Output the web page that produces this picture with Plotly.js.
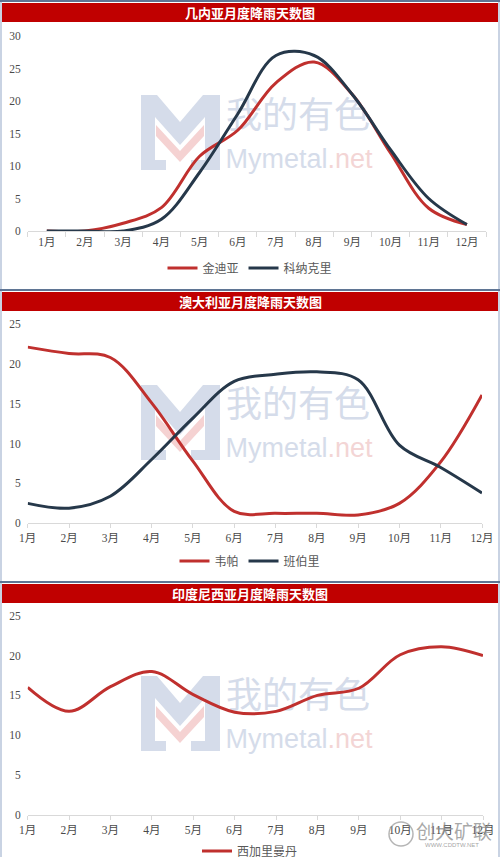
<!DOCTYPE html>
<html>
<head>
<meta charset="utf-8">
<script src="https://cdn.plot.ly/plotly-3.0.1.min.js"></script>
<style>
html,body{margin:0;padding:0;background:#fff;}
#chart{width:500px;height:857px;}
</style>
</head>
<body>
<div id="chart"></div>
<script>
// ---------- data ----------
const months = ['1月','2月','3月','4月','5月','6月','7月','8月','9月','10月','11月','12月'];
const chartTitles = ['几内亚月度降雨天数图','澳大利亚月度降雨天数图','印度尼西亚月度降雨天数图'];
const guineaNames = ['金迪亚','科纳克里'];
const guineaKindia  = [0, 0, 1.2, 3.6, 11.5, 15.5, 22.8, 26, 21, 12, 3.5, 1];
const guineaConakry = [0, 0, 0, 1.8, 9, 18, 27, 27, 21, 12.5, 5, 1];
const ausNames = ['韦帕','班伯里'];
const ausWeipa   = [22.1, 21.3, 20.8, 15.1, 7.8, 1.5, 1.25, 1.25, 1.05, 2.5, 7.7, 16.1];
const ausBunbury = [2.5, 1.9, 3.4, 8, 13.2, 17.8, 18.7, 19, 18, 9.8, 7, 3.8];
const indoNames = ['西加里曼丹'];
const indoWestKalimantan = [16, 13, 16.1, 18, 15.1, 12.9, 13, 15, 15.9, 20.1, 21.1, 20];
const yTicks1 = [0,5,10,15,20,25,30];
const yTicks2 = [0,5,10,15,20,25];

// ---------- styling ----------
const W = 500, H = 857;
const px = p => p / W;
const py = p => 1 - p / H;
const RED = '#c0302e';
const DARK = '#26384a';
const TICKCOL = '#4a4a4a';
const AXCOL = '#d9d9d9';
const tickFont = {family: 'Liberation Serif, "Noto Sans CJK SC", serif', size: 11.5, color: TICKCOL};
const legFont = {family: '"Noto Sans CJK SC", sans-serif', size: 12, color: '#595959'};
const panelTop = [0, 289, 580];

const traces = [];
// watermark text (overlay subplot, pixel coordinates), drawn first so lines are above
panelTop.forEach(dy => {
  traces.push({x: [298], y: [119 + dy], xaxis: 'x', yaxis: 'y', mode: 'text', text: ['我的有色'],
    textfont: {family: '"Noto Sans CJK SC", sans-serif', size: 36, color: '#d5dcea'},
    hoverinfo: 'skip', showlegend: false, cliponaxis: false});
  traces.push({x: [299], y: [161 + dy], xaxis: 'x', yaxis: 'y', mode: 'text',
    text: ["Mymetal<span style='fill:#f3d5d5'>.net</span>"],
    textfont: {family: 'Liberation Sans, Arial, sans-serif', size: 27, color: '#d5dcea'},
    hoverinfo: 'skip', showlegend: false, cliponaxis: false});
});

function line(y, name, color, xa, ya, leg) {
  return {x: months, y: y, name: name, xaxis: xa, yaxis: ya, legend: leg, type: 'scatter', mode: 'lines',
    line: {color: color, width: 3, shape: 'spline', smoothing: 1}, cliponaxis: false,
    hoverinfo: 'x+y+name', showlegend: true};
}
traces.push(line(guineaKindia, guineaNames[0], RED, 'x2', 'y2', 'legend'));
traces.push(line(guineaConakry, guineaNames[1], DARK, 'x2', 'y2', 'legend'));
traces.push(line(ausWeipa, ausNames[0], RED, 'x3', 'y3', 'legend2'));
traces.push(line(ausBunbury, ausNames[1], DARK, 'x3', 'y3', 'legend2'));
traces.push(line(indoWestKalimantan, indoNames[0], RED, 'x4', 'y4', 'legend3'));

function xAxis(dom, yanchor, between) {
  const a = {domain: dom, anchor: yanchor, type: 'category', categoryorder: 'array', categoryarray: months,
    showline: true, linecolor: AXCOL, linewidth: 1, showgrid: false, zeroline: false,
    ticks: 'outside', tickcolor: AXCOL, tickwidth: 1, tickfont: tickFont, fixedrange: true};
  if (between) { a.range = [-0.5, 11.5]; a.tickson = 'boundaries'; a.ticklen = 5; }
  else { a.range = [0, 11]; a.ticklen = 4; }
  return a;
}
function yAxis(dom, xanchor, rng, tv) {
  return {domain: dom, anchor: xanchor, range: rng, tickvals: tv, ticktext: tv.map(String),
    showline: false, showgrid: false, zeroline: false, ticks: '', tickfont: tickFont,
    ticklabelstandoff: 6, fixedrange: true};
}

// decorative shapes
const shapes = [];
function rectPx(x0, y0, x1, y1, fill) {
  shapes.push({type: 'rect', xref: 'x', yref: 'y', x0: x0, y0: y0, x1: x1, y1: y1,
    fillcolor: fill, line: {width: 0}, layer: 'below'});
}
function linePx(x0, y0, x1, y1, color, w) {
  shapes.push({type: 'line', xref: 'x', yref: 'y', x0: x0, y0: y0, x1: x1, y1: y1,
    line: {color: color, width: w}, layer: 'below'});
}
function pathPx(pts, ox, oy, fill) {
  const d = pts.map((p, i) => (i ? 'L' : 'M') + (p[0] + ox) + ',' + (p[1] + oy)).join(' ') + ' Z';
  shapes.push({type: 'path', xref: 'x', yref: 'y', path: d, fillcolor: fill, line: {width: 0}, layer: 'below'});
}
const logoM = [[0,0],[16,0],[39,27],[62,0],[79,0],[79,75],[50,75],[50,65],[64,65],[64,22],[39,50],[14,22],[14,65],[25,65],[25,75],[0,75]];
const logoV = [[15,30],[39,56],[63,30],[63,41],[39,67],[15,41]];
const logoTops = [95, 385, 676];
logoTops.forEach(t => {
  pathPx(logoM, 141, t, '#d5dcea');
  pathPx(logoV, 141, t, '#f5d2d2');
});
// panel borders and title bars
linePx(1, 0, 1, 857, '#c9d3e3', 2);
linePx(499, 0, 499, 857, '#c9d3e3', 2);
const barTops = [2, 291, 583];
barTops.forEach(t => {
  linePx(0, t - 1, 500, t - 1, '#5f7594', 2);
  rectPx(2, t + 1, 498, t + 20, '#c00000');
});
// bottom-right small logo circle
shapes.push({type: 'circle', xref: 'x', yref: 'y', x0: 389, y0: 822, x1: 413, y1: 846,
  line: {color: 'rgba(150,150,150,0.7)', width: 1.5}, fillcolor: 'rgba(255,255,255,0)', layer: 'above'});

const titleY = [12.5, 301.5, 593.5];
const annotations = chartTitles.map((t, i) => ({
  text: '<b>' + t + '</b>', xref: 'paper', yref: 'paper', x: 0.5, y: py(titleY[i]),
  xanchor: 'center', yanchor: 'middle', showarrow: false,
  font: {family: '"Noto Sans CJK SC", sans-serif', size: 13, color: '#ffffff'}
}));
annotations.push({text: '创大矿联', xref: 'x', yref: 'y', x: 454, y: 830, showarrow: false,
  xanchor: 'center', yanchor: 'middle',
  font: {family: '"Noto Sans CJK SC", sans-serif', size: 19, color: 'rgba(140,140,140,0.75)'}});
annotations.push({text: 'WWW.CDDTW.NET', xref: 'x', yref: 'y', x: 452, y: 845, showarrow: false,
  xanchor: 'center', yanchor: 'middle',
  font: {family: 'Liberation Sans, sans-serif', size: 6, color: 'rgba(140,140,140,0.8)'}});

function legendAt(yPix) {
  return {orientation: 'h', x: 0.5, xanchor: 'center', y: py(yPix), yanchor: 'middle',
    xref: 'paper', yref: 'paper', font: legFont, bgcolor: 'rgba(0,0,0,0)', itemwidth: 30,
    traceorder: 'normal', itemclick: false, itemdoubleclick: false};
}

const layout = {
  width: W, height: H,
  margin: {l: 0, r: 0, t: 0, b: 0, pad: 0, autoexpand: false},
  paper_bgcolor: '#ffffff', plot_bgcolor: 'rgba(0,0,0,0)',
  showlegend: true,
  xaxis: {domain: [0, 1], range: [0, W], visible: false, fixedrange: true, anchor: 'y'},
  yaxis: {domain: [0, 1], range: [H, 0], visible: false, fixedrange: true, anchor: 'x'},
  xaxis2: xAxis([px(27.7), px(486)], 'y2', true),
  yaxis2: yAxis([py(231), py(36)], 'x2', [0, 30], yTicks1),
  xaxis3: xAxis([px(27.7), px(482)], 'y3', false),
  yaxis3: yAxis([py(523.3), py(324)], 'x3', [0, 25], yTicks2),
  xaxis4: xAxis([px(27.7), px(483)], 'y4', false),
  yaxis4: yAxis([py(815), py(615.7)], 'x4', [0, 25], yTicks2),
  legend: legendAt(268),
  legend2: legendAt(561),
  legend3: legendAt(851),
  shapes: shapes,
  annotations: annotations,
  hovermode: 'closest'
};

Plotly.newPlot('chart', traces, layout, {displayModeBar: false, responsive: false});
</script>
</body>
</html>
